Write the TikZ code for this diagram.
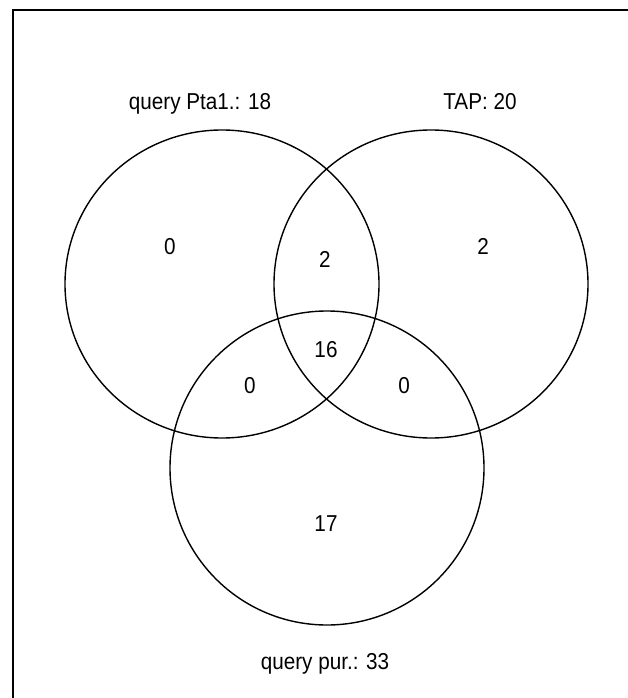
\documentclass[tikz,border=0pt]{standalone}
\usepackage{fontspec}
\setmainfont[FakeStretch=0.9]{Liberation Sans}
\begin{document}
\begin{tikzpicture}[x=1pt,y=-1pt,
  setcircle/.style={draw=black,line width=1.4pt},
  lbl/.style={font=\fontsize{23}{26}\selectfont,inner sep=0pt,anchor=base}]
\useasboundingbox (0,0) rectangle (628,698);
\draw[line width=2.6pt] (13,698) -- (13,10) -- (628,10);
\draw[setcircle] (222,284) ellipse [x radius=157, y radius=154];
\draw[setcircle] (431,284) ellipse [x radius=157, y radius=154];
\draw[setcircle] (327,468) ellipse [x radius=157, y radius=157];
\node[lbl] (la) at (200,110) {query Pta1.: 18};
\node[lbl] (lb) at (480,110) {TAP: 20};
\node[lbl] (lc) at (325,669) {query pur.: 33};
\node[lbl] (n1) at (170,254) {0};
\node[lbl] (n2) at (325,267) {2};
\node[lbl] (n3) at (483,254) {2};
\node[lbl] (n4) at (326,357) {16};
\node[lbl] (n5) at (250,393) {0};
\node[lbl] (n6) at (404,393) {0};
\node[lbl] (n7) at (326,531) {17};
\end{tikzpicture}
\end{document}
